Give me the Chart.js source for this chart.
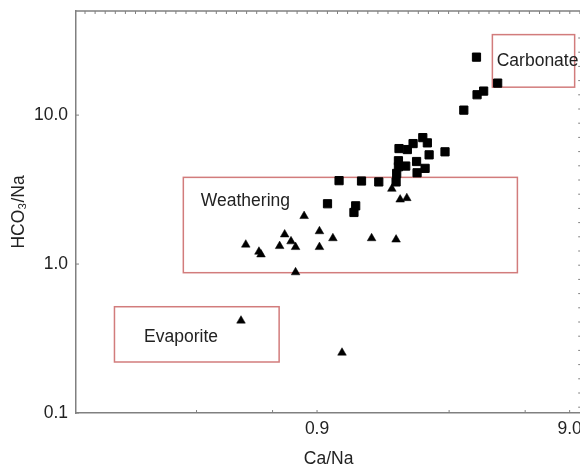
<!DOCTYPE html>
<html>
<head>
<meta charset="utf-8">
<script src="https://cdn.jsdelivr.net/npm/chart.js@4.4.1/dist/chart.umd.min.js"></script>
<style>
  html, body { margin: 0; padding: 0; background: #fff; overflow: hidden; }
  #wrap { width: 588px; height: 470px; }
</style>
</head>
<body>
<div id="wrap"><canvas id="hydroChart" width="588" height="470"></canvas></div>
<script>
// samples plotted as squares (carbonate-ish group)
const squareX = [3.85, 4.67, 3.87, 4.11, 3.43, 2.36, 2.46, 2.16, 2.05, 1.90, 2.50, 2.89, 2.23,
  1.89, 2.02, 1.89, 2.41, 2.24, 1.86, 1.85, 1.58, 1.35, 1.10, 0.99, 1.28, 1.26];
const squareY = [24.5, 16.4, 13.7, 14.5, 10.8, 7.06, 6.51, 6.44, 5.87, 5.96, 5.41, 5.67, 4.88,
  4.94, 4.55, 4.50, 4.39, 4.10, 4.06, 3.56, 3.56, 3.61, 3.63, 2.54, 2.46, 2.22];

// samples plotted as triangles
const triangleX = [1.78, 1.92, 2.04, 0.80, 0.92, 0.67, 0.71, 1.04, 1.48, 1.85, 0.47, 0.64, 0.74,
  0.92, 0.53, 0.54, 0.74, 0.45, 1.13];
const triangleY = [3.20, 2.71, 2.77, 2.10, 1.66, 1.58, 1.42, 1.49, 1.49, 1.46, 1.35, 1.32, 1.30,
  1.30, 1.21, 1.16, 0.88, 0.417, 0.254];

// end-member zones (boxes) and where their names sit
const zoneNames = ['Evaporite', 'Weathering', 'Carbonate'];
const zoneXMin = [0.142, 0.266, 4.45];
const zoneXMax = [0.637, 5.59, 9.42];
const zoneYMin = [0.220, 0.875, 15.4];
const zoneYMax = [0.517, 3.82, 34.7];
const zoneLabelX = [0.186, 0.312, 4.63];
const zoneLabelY = [0.321, 2.64, 23.1];

// tick values
const xTicks = [0.3, 0.6, 0.9, 3, 6, 9];
const xLabelled = [0.9, 9];
const yTicks = [0.1, 1, 10];

const FONT = 'Liberation Sans, Arial, sans-serif';
const AXIS = '#808080';

const toPoints = (xs, ys) => xs.map((x, i) => ({ x: x, y: ys[i] }));

// red boxes, zone names, frame and inward tick marks
const decorPlugin = {
  id: 'decor',
  beforeDatasetsDraw(chart) {
    const { ctx, scales: { x, y } } = chart;
    ctx.save();
    ctx.strokeStyle = '#d27c7c';
    ctx.lineWidth = 1.5;
    zoneNames.forEach((name, i) => {
      const x1 = x.getPixelForValue(zoneXMin[i]);
      const x2 = x.getPixelForValue(zoneXMax[i]);
      const y1 = y.getPixelForValue(zoneYMax[i]);
      const y2 = y.getPixelForValue(zoneYMin[i]);
      ctx.strokeRect(x1, y1, x2 - x1, y2 - y1);
      ctx.fillStyle = '#222';
      ctx.font = '17.5px ' + FONT;
      ctx.textAlign = 'left';
      ctx.textBaseline = 'middle';
      ctx.fillText(name, x.getPixelForValue(zoneLabelX[i]), y.getPixelForValue(zoneLabelY[i]));
    });
    ctx.restore();
  },
  afterDraw(chart) {
    const { ctx, chartArea: a, scales: { x, y } } = chart;
    ctx.save();
    ctx.strokeStyle = AXIS;
    ctx.lineWidth = 1.5;
    ctx.beginPath();
    ctx.moveTo(a.left, a.top);
    ctx.lineTo(a.right, a.top);
    ctx.lineTo(a.right, a.bottom);
    ctx.stroke();
    ctx.lineWidth = 1;
    ctx.beginPath();
    x.ticks.forEach(t => {
      const px = x.getPixelForValue(t.value);
      ctx.moveTo(px, a.bottom);
      ctx.lineTo(px, a.bottom - 3);
    });
    y.ticks.forEach(t => {
      const py = y.getPixelForValue(t.value);
      ctx.moveTo(a.left, py);
      ctx.lineTo(a.left + 3, py);
    });
    for (let px = a.left + 9; px < a.right; px += 10.1) {
      ctx.moveTo(px, a.top);
      ctx.lineTo(px, a.top + 3);
    }
    for (let py = a.top + 27; py < a.bottom; py += 14.2) {
      ctx.moveTo(a.right - 3, py);
      ctx.lineTo(a.right - 1, py);
    }
    ctx.stroke();
    ctx.restore();
  }
};

new Chart(document.getElementById('hydroChart'), {
  type: 'scatter',
  data: {
    datasets: [{
      label: 'Squares',
      data: toPoints(squareX, squareY),
      pointStyle: 'rect',
      pointRadius: 5.8,
      pointBackgroundColor: '#000',
      pointBorderColor: '#000',
      pointBorderWidth: 1
    }, {
      label: 'Triangles',
      data: toPoints(triangleX, triangleY),
      pointStyle: 'triangle',
      pointRadius: 5,
      pointBackgroundColor: '#000',
      pointBorderColor: '#000',
      pointBorderWidth: 0.5
    }]
  },
  options: {
    responsive: false,
    animation: false,
    layout: { padding: { top: 11, right: 3, left: 0, bottom: 0 } },
    plugins: {
      legend: { display: false },
      tooltip: { enabled: false }
    },
    scales: {
      x: {
        type: 'logarithmic',
        min: 0.1,
        max: 10,
        grid: { display: false, drawTicks: false },
        border: { color: AXIS, width: 1.5 },
        afterBuildTicks: s => { s.ticks = xTicks.map(v => ({ value: v })); },
        afterFit: s => { s.height = 57; s.paddingLeft = 0; s.paddingRight = 0; },
        ticks: {
          autoSkip: false,
          maxRotation: 0,
          padding: 6,
          color: '#222',
          font: { family: FONT, size: 17.5 },
          callback: v => xLabelled.includes(v) ? v.toFixed(1) : ''
        },
        title: {
          display: true,
          text: 'Ca/Na',
          color: '#222',
          font: { family: FONT, size: 17.5 },
          padding: { top: 0, bottom: 0 }
        }
      },
      y: {
        type: 'logarithmic',
        min: 0.1,
        max: 50,
        grid: { display: false, drawTicks: false },
        border: { color: AXIS, width: 1.5 },
        afterBuildTicks: s => { s.ticks = yTicks.map(v => ({ value: v })); },
        afterFit: s => { s.width = 76; s.paddingTop = 0; s.paddingBottom = 0; },
        ticks: {
          autoSkip: false,
          padding: 8,
          color: '#222',
          font: { family: FONT, size: 17.5 },
          callback: v => v.toFixed(1)
        },
        title: {
          display: true,
          text: 'HCO₃/Na',
          color: '#222',
          font: { family: FONT, size: 17.5 },
          padding: { top: 9, bottom: 0 }
        }
      }
    }
  },
  plugins: [decorPlugin]
});
</script>
</body>
</html>
